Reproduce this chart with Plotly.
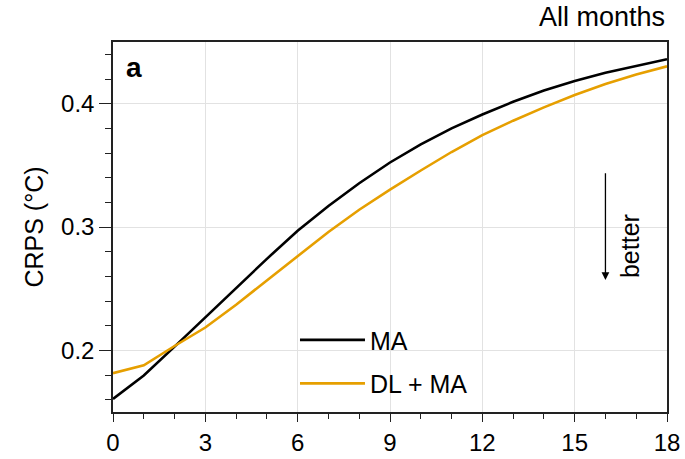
import plotly.graph_objects as go

lead_months = list(range(19))
crps_ma = [0.1606, 0.1796, 0.2030, 0.2268, 0.2508, 0.2742, 0.2970, 0.3170, 0.3355, 0.3523,
           0.3670, 0.3800, 0.3912, 0.4015, 0.4107, 0.4183, 0.4250, 0.4308, 0.4360]
crps_dlma = [0.1815, 0.1878, 0.2035, 0.2185, 0.2370, 0.2567, 0.2770, 0.2960, 0.3140, 0.3303,
             0.3458, 0.3608, 0.3745, 0.3862, 0.3970, 0.4070, 0.4160, 0.4237, 0.4303]

FONT = "Liberation Sans, Arial, sans-serif"

fig = go.Figure()
fig.add_trace(go.Scatter(x=lead_months, y=crps_ma, mode="lines", name="MA",
                         line=dict(color="#000000", width=2.6), legendgroup="g1"))
fig.add_trace(go.Scatter(x=lead_months, y=crps_dlma, mode="lines", name="DL + MA",
                         line=dict(color="#E69F00", width=2.6), legendgroup="g2"))

fig.update_layout(
    width=685, height=459,
    margin=dict(l=113, r=18, t=42, b=47),
    paper_bgcolor="white", plot_bgcolor="white",
    font=dict(family=FONT, size=24, color="black"),
    legend=dict(x=0.3285, y=0.2565, xanchor="left", yanchor="top",
                bgcolor="rgba(0,0,0,0)", font=dict(size=25),
                tracegroupgap=8, traceorder="grouped", itemwidth=65),
    showlegend=True,
)

fig.update_xaxes(range=[0, 18], dtick=3, tick0=0, showgrid=True, gridcolor="#e2e2e2", gridwidth=1,
                 showline=True, linecolor="#222", linewidth=1.5, mirror=True,
                 ticks="outside", ticklen=8, tickwidth=1.2, tickcolor="#222",
                 minor=dict(dtick=1, ticks="outside", ticklen=5, tickcolor="#222", showgrid=False),
                 zeroline=False, tickfont=dict(size=24), automargin=False)
fig.update_yaxes(range=[0.15, 0.45], dtick=0.1, tick0=0, showgrid=True, gridcolor="#e2e2e2", gridwidth=1,
                 showline=True, linecolor="#222", linewidth=1.5, mirror=True,
                 ticks="outside", ticklen=12, tickwidth=1.2, tickcolor="#222",
                 minor=dict(dtick=0.02, tick0=0, ticks="outside", ticklen=6, tickcolor="#222", showgrid=False),
                 zeroline=False, tickformat=".1f", tickfont=dict(size=24), automargin=False,
                 title=dict(text="CRPS (°C)", font=dict(size=25), standoff=10))

# title at top right
fig.add_annotation(text="All months", xref="paper", yref="paper", x=1.0, y=1.022,
                   xanchor="right", yanchor="bottom", showarrow=False, font=dict(size=27))

# panel label
fig.add_annotation(text="<b>a</b>", xref="paper", yref="paper", x=0.02, y=0.93,
                   xanchor="left", yanchor="middle", showarrow=False, font=dict(size=28))

# "better" arrow
fig.add_annotation(x=16, y=0.257, ax=16, ay=0.3447, xref="x", yref="y", axref="x", ayref="y",
                   text="", showarrow=True, arrowhead=2, arrowsize=1.2, arrowwidth=1.3,
                   arrowcolor="black")
fig.add_annotation(x=16.8, y=0.2846, xref="x", yref="y", text="better", textangle=-90,
                   showarrow=False, font=dict(size=25))

fig.write_html("out.html", config={"displayModeBar": False},
               post_script="document.body.style.margin='0';")
